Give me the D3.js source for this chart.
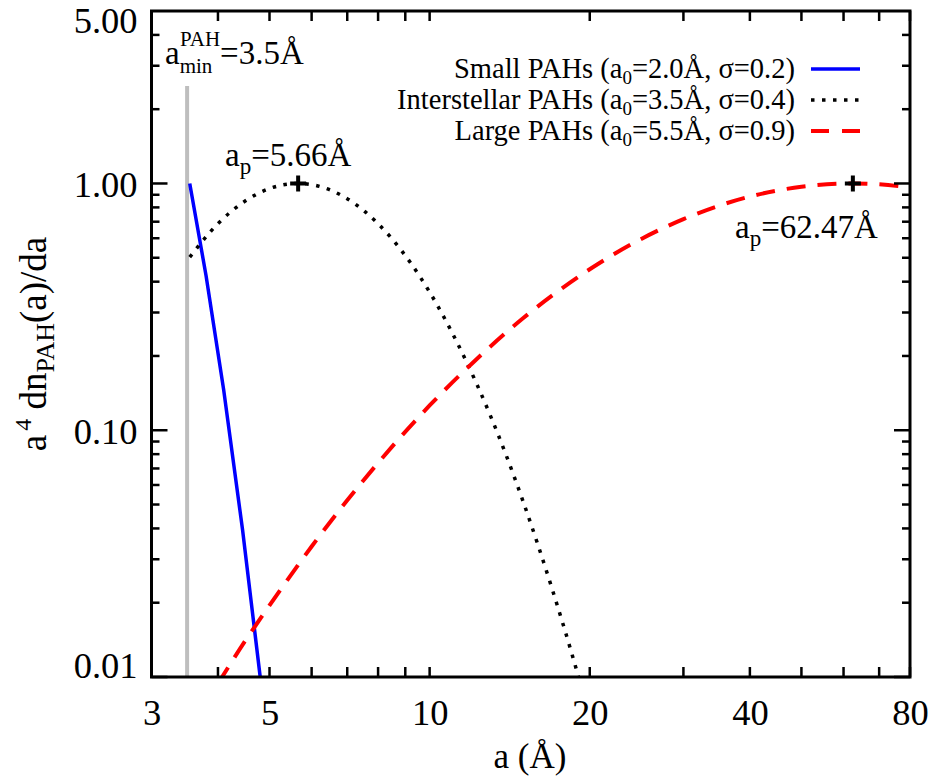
<!DOCTYPE html>
<html>
<head>
<meta charset="utf-8">
<script src="https://cdn.jsdelivr.net/npm/d3@7"></script>
<style>
  html, body { margin: 0; padding: 0; background: #fff; }
</style>
</head>
<body>
<svg id="chart" width="934" height="777"></svg>
<script>
// Grain-size distributions a^4 dn/da (normalised), sampled sizes in Å
const smallSize  = [3.54, 3.8, 4.1, 4.45, 4.8, 4.9];
const smallValue = [1.0, 0.422, 0.146, 0.0394, 0.0101, 0.0068];

const ismSize  = [3.54, 4.0, 4.5, 5.0, 5.66, 6.5, 7.5, 8.5, 10, 11.5, 13, 15, 17, 19, 20];
const ismValue = [0.503, 0.687, 0.849, 0.954, 1.0, 0.941, 0.780, 0.596, 0.363, 0.207, 0.115, 0.0512, 0.0227, 0.0102, 0.0068];

const largeSize  = [4.0, 4.5, 5, 6, 7, 8.5, 10, 12, 15, 20, 25, 30, 40, 50, 62.47, 70, 80];
const largeValue = [0.0094, 0.0140, 0.0195, 0.0338, 0.0520, 0.0858, 0.126, 0.186, 0.285, 0.449, 0.596, 0.717, 0.885, 0.970, 1.0, 0.992, 0.963];

const peakSizes = [5.66, 62.47];
const peakValue = 1.0;
const aMin = 3.5;

const xTickValues = [3, 5, 10, 20, 40, 80];
const xMinorValues = [4, 6, 7, 8, 9, 30, 50, 60, 70];
const yTickValues = [0.01, 0.1, 1, 5];
const yTickLabels = ["0.01", "0.10", "1.00", "5.00"];
const yMinorValues = [0.02, 0.03, 0.04, 0.05, 0.06, 0.07, 0.08, 0.09,
                      0.2, 0.3, 0.4, 0.5, 0.6, 0.7, 0.8, 0.9, 2, 3, 4];

const legendLabels = [
  { name: "Small PAHs", a0: "2.0", sigma: "0.2" },
  { name: "Interstellar PAHs", a0: "3.5", sigma: "0.4" },
  { name: "Large PAHs", a0: "5.5", sigma: "0.9" }
];

const FONT = '"Liberation Serif", "Times New Roman", Tinos, "Nimbus Roman", "DejaVu Serif", serif';

const svg = d3.select("#chart").attr("font-family", FONT);
const margin = { left: 151.5, right: 910, top: 11, bottom: 677 };

const x = d3.scaleLog().domain([3, 80]).range([margin.left, margin.right]);
const y = d3.scaleLog().domain([0.01, 5]).range([margin.bottom, margin.top]);

// clip region for curves
svg.append("defs").append("clipPath").attr("id", "plotClip")
  .append("rect")
  .attr("x", margin.left).attr("y", margin.top)
  .attr("width", margin.right - margin.left)
  .attr("height", margin.bottom - margin.top);

const styles = [
  { color: "#0000ff", width: 3.5, dash: null },
  { color: "#000000", width: 3.5, dash: "3.5 7.5" },
  { color: "#ff0000", width: 4, dash: "19 12" }
];

// a_min marker
svg.append("line")
  .attr("x1", x(aMin)).attr("x2", x(aMin))
  .attr("y1", 86).attr("y2", margin.bottom)
  .attr("stroke", "#bebebe").attr("stroke-width", 4);

const plot = svg.append("g").attr("clip-path", "url(#plotClip)");

function drawSeries(sizes, values, st, curve) {
  const pts = sizes.map((s, i) => [x(s), y(values[i])]);
  const line = d3.line().curve(curve);
  plot.append("path")
    .attr("d", line(pts))
    .attr("fill", "none")
    .attr("stroke", st.color)
    .attr("stroke-width", st.width)
    .attr("stroke-dasharray", st.dash);
}

drawSeries(smallSize, smallValue, styles[0], d3.curveLinear);
drawSeries(ismSize, ismValue, styles[1], d3.curveMonotoneX);
drawSeries(largeSize, largeValue, styles[2], d3.curveMonotoneX);

// peak markers
peakSizes.forEach(p => {
  const cx = x(p), cy = y(peakValue);
  svg.append("path")
    .attr("d", `M${cx - 8},${cy}H${cx + 8}M${cx},${cy - 8}V${cy + 8}`)
    .attr("stroke", "#000").attr("stroke-width", 4);
});

// frame
svg.append("rect")
  .attr("x", margin.left).attr("y", margin.top)
  .attr("width", margin.right - margin.left)
  .attr("height", margin.bottom - margin.top)
  .attr("fill", "none").attr("stroke", "#000").attr("stroke-width", 3);

// ticks on all four sides
const tickG = svg.append("g");
xTickValues.concat(xMinorValues).forEach(v => {
  tickG.append("line").attr("x1", x(v)).attr("x2", x(v))
    .attr("y1", margin.bottom).attr("y2", margin.bottom - 10)
    .attr("stroke", "#000").attr("stroke-width", 2.5);
  tickG.append("line").attr("x1", x(v)).attr("x2", x(v))
    .attr("y1", margin.top).attr("y2", margin.top + 10)
    .attr("stroke", "#000").attr("stroke-width", 2.5);
});
yMinorValues.forEach(v => {
  tickG.append("line").attr("x1", margin.left).attr("x2", margin.left + 8)
    .attr("y1", y(v)).attr("y2", y(v)).attr("stroke", "#000").attr("stroke-width", 2.5);
  tickG.append("line").attr("x1", margin.right).attr("x2", margin.right - 8)
    .attr("y1", y(v)).attr("y2", y(v)).attr("stroke", "#000").attr("stroke-width", 2.5);
});
yTickValues.slice(0, 3).forEach(v => {
  tickG.append("line").attr("x1", margin.left).attr("x2", margin.left + 16)
    .attr("y1", y(v)).attr("y2", y(v)).attr("stroke", "#000").attr("stroke-width", 2.5);
  tickG.append("line").attr("x1", margin.right).attr("x2", margin.right - 16)
    .attr("y1", y(v)).attr("y2", y(v)).attr("stroke", "#000").attr("stroke-width", 2.5);
});

// tick labels
const xAxisG = svg.append("g")
  .attr("transform", `translate(0,${margin.bottom})`)
  .call(d3.axisBottom(x).tickValues(xTickValues).tickSize(0).tickPadding(0)
    .tickFormat(d3.format("d")));
xAxisG.attr("font-family", FONT);
xAxisG.select(".domain").remove();
xAxisG.selectAll("text")
  .attr("y", 48).attr("dy", null)
  .attr("font-size", 36.5);

const yAxisG = svg.append("g")
  .attr("transform", `translate(${margin.left},0)`)
  .call(d3.axisLeft(y).tickValues(yTickValues).tickSize(0).tickPadding(14)
    .tickFormat((d, i) => yTickLabels[i]));
yAxisG.attr("font-family", FONT);
yAxisG.select(".domain").remove();
yAxisG.selectAll("text")
  .attr("font-size", 36.5)
  .attr("dy", "0.36em");
yAxisG.selectAll(".tick").filter(d => d === 0.01).select("text").attr("dy", "0.0em");
yAxisG.selectAll(".tick").filter(d => d === 5).select("text").attr("dy", "0.6em");

// axis titles
svg.append("text")
  .attr("x", 530).attr("y", 768)
  .attr("text-anchor", "middle")
  .attr("font-size", 35)
  .text("a (Å)");

const yt = svg.append("text")
  .attr("transform", `translate(46,${(margin.top + margin.bottom) / 2}) rotate(-90)`)
  .attr("text-anchor", "middle")
  .attr("font-size", 37);
yt.append("tspan").text("a");
yt.append("tspan").attr("dx", 4).attr("dy", -15).attr("font-size", 24).text("4");
yt.append("tspan").attr("dy", 15).text(" dn");
yt.append("tspan").attr("dy", 8).attr("font-size", 26).text("PAH");
yt.append("tspan").attr("dy", -8).text("(a)/da");

// legend
const legend = svg.append("g");
legendLabels.forEach((d, i) => {
  const ly = 69 + i * 31;
  const t = legend.append("text")
    .attr("x", 795).attr("y", ly + 9)
    .attr("text-anchor", "end")
    .attr("font-size", 28.5);
  t.append("tspan").text(`${d.name} (a`);
  t.append("tspan").attr("dy", 6).attr("font-size", 19).text("0");
  t.append("tspan").attr("dy", -6).text(`=${d.a0}Å, σ=${d.sigma})`);
  legend.append("line")
    .attr("x1", 811).attr("x2", 860)
    .attr("y1", ly).attr("y2", ly)
    .attr("stroke", styles[i].color)
    .attr("stroke-width", styles[i].width)
    .attr("stroke-dasharray", i === 0 ? null : (i === 1 ? "3.5 7.5" : "18 13"));
});

// annotations
function subLabel(px, py, main, sub, rest, size) {
  const t = svg.append("text").attr("x", px).attr("y", py).attr("font-size", size);
  t.append("tspan").text(main);
  t.append("tspan").attr("dy", size * 0.25).attr("font-size", size * 0.7).text(sub);
  t.append("tspan").attr("dy", -size * 0.25).text(rest);
  return t;
}
subLabel(225, 166, "a", "p", "=5.66Å", 33);
subLabel(735, 238, "a", "p", "=62.47Å", 33);

const amin = svg.append("text").attr("x", 165).attr("y", 64).attr("font-size", 33);
amin.append("tspan").text("a");
amin.append("tspan").attr("dy", 9).attr("font-size", 21).text("min");
amin.append("tspan").attr("x", 165 + 15).attr("dy", -27).attr("font-size", 21).text("PAH");
amin.append("tspan").attr("dy", 18).text("=3.5Å");
</script>
</body>
</html>
